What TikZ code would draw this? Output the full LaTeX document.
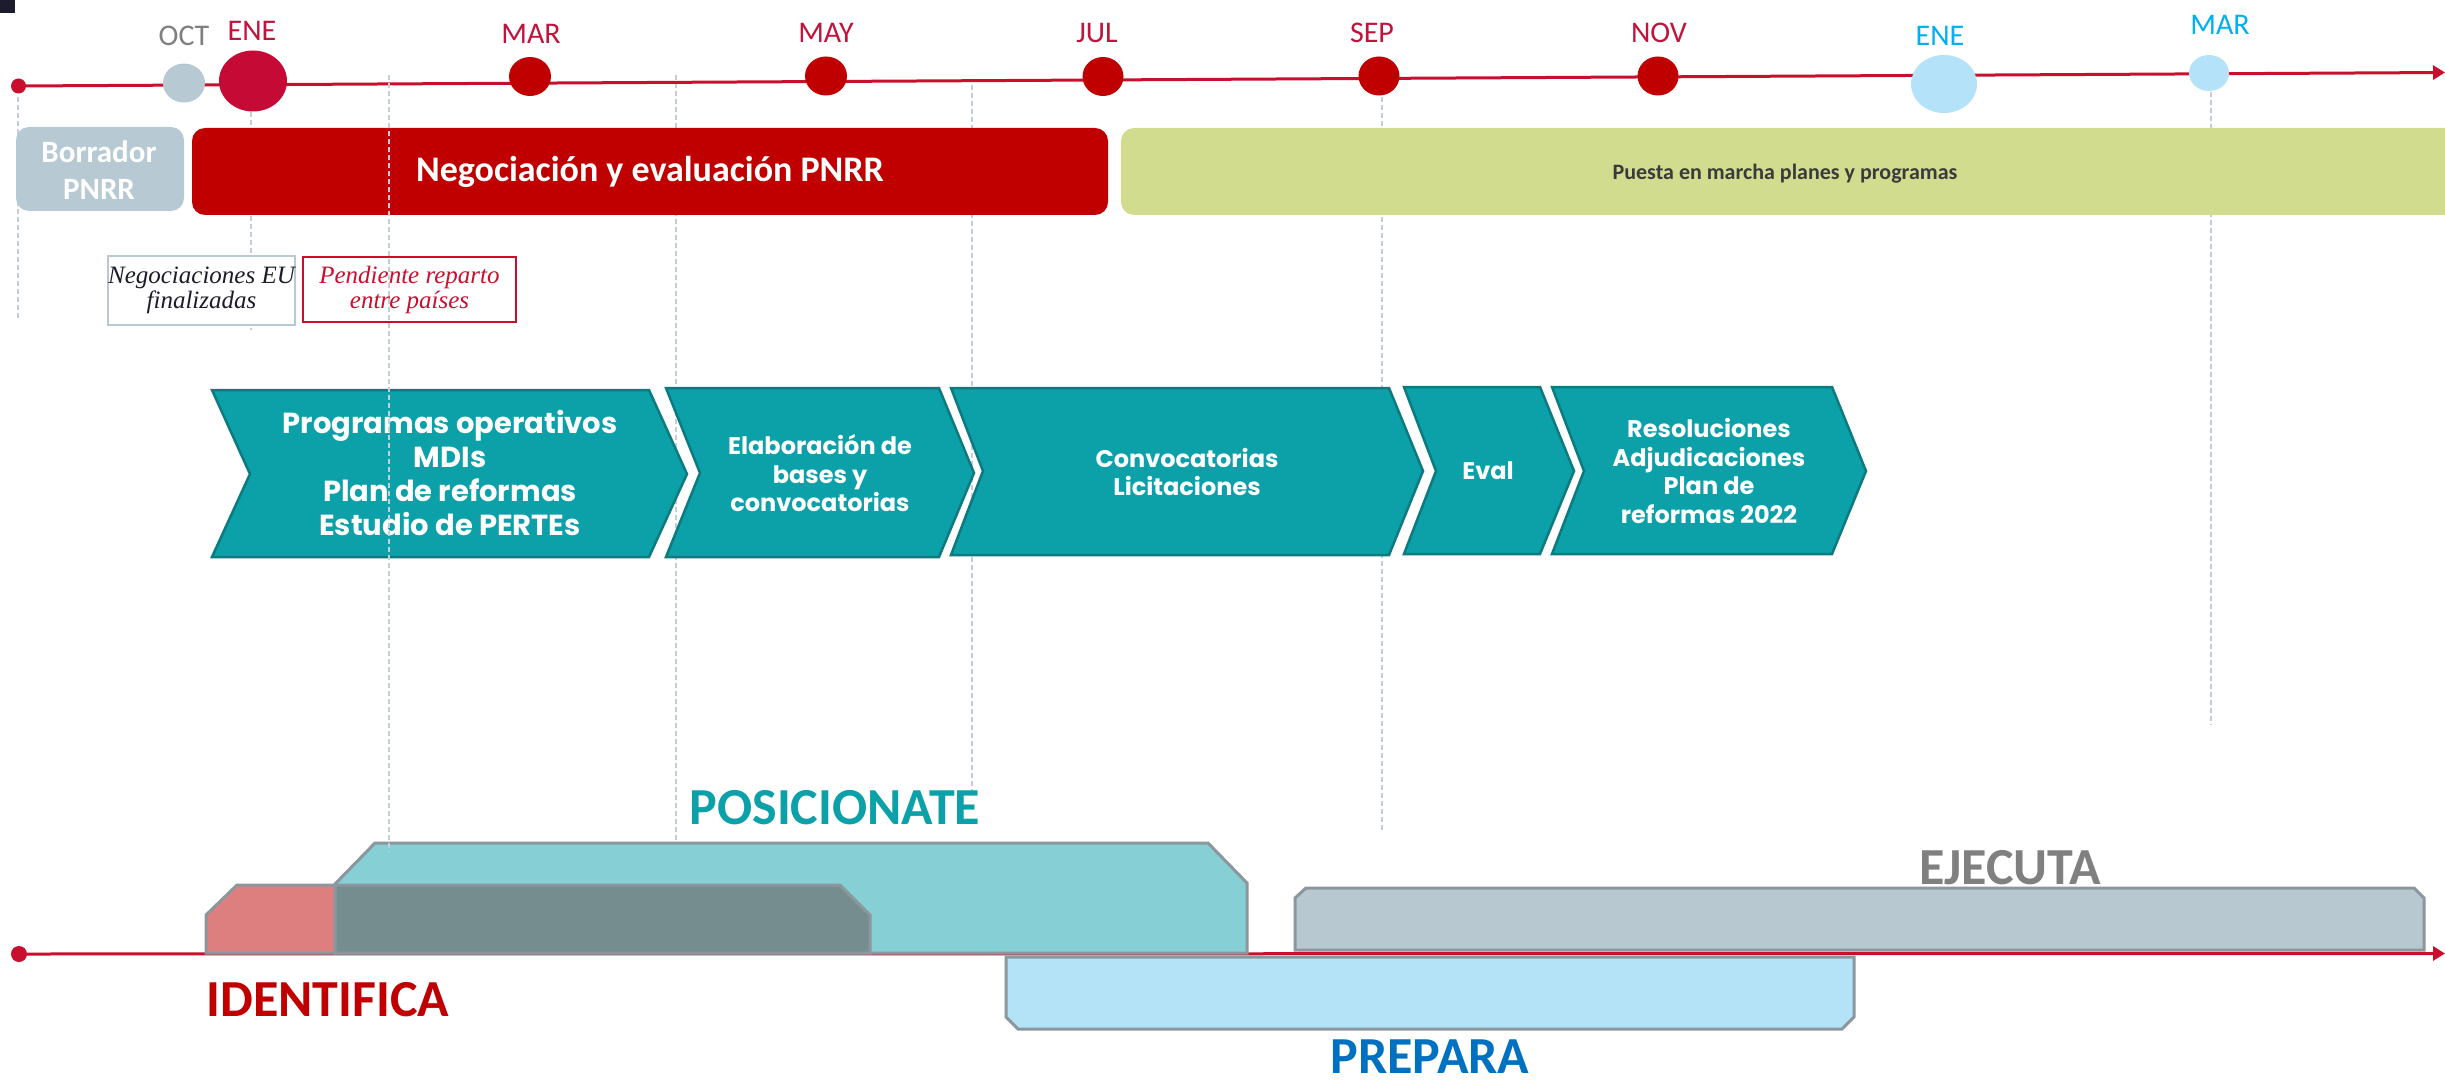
\documentclass[tikz,border=0pt]{standalone}
\usepackage{fontspec}
\setmainfont{Carlito}
\newfontfamily\popfont{Poppins}
\newfontfamily\serfont{Liberation Serif}
\usetikzlibrary{arrows.meta,shapes.geometric}
\definecolor{navy}{HTML}{1C1C2C}
\definecolor{crim}{HTML}{C40A35}
\definecolor{linered}{HTML}{C8102E}
\definecolor{darkred}{HTML}{C00000}
\definecolor{labred}{HTML}{C0143C}
\definecolor{grayblue}{HTML}{B7C9D3}
\definecolor{octgray}{HTML}{7F7F7F}
\definecolor{lblue}{HTML}{B4E2F8}
\definecolor{skyblue}{HTML}{00B0F0}
\definecolor{olive}{HTML}{D1DC8E}
\definecolor{txtdark}{HTML}{3B3B3B}
\definecolor{teal1}{HTML}{0CA0A8}
\definecolor{teal2}{HTML}{0B7B80}
\definecolor{posfill}{HTML}{86CFD4}
\definecolor{idfill}{HTML}{DE7F7F}
\definecolor{ovfill}{HTML}{758D8F}
\definecolor{ejfill}{HTML}{B7C8D0}
\definecolor{prfill}{HTML}{B4E3F8}
\definecolor{outl}{HTML}{8C979D}
\definecolor{dashc}{HTML}{C3CFD8}
\definecolor{prepblue}{HTML}{0070C0}
\definecolor{ejgray}{HTML}{808080}
\tikzset{
  guide/.style={draw=dashc, line width=1.5pt, dash pattern=on 5pt off 3pt},
  tline/.style={draw=linered, line width=3pt, -{Triangle[length=12pt,width=14pt]}},
  dotn/.style={ellipse, inner sep=0pt, draw=none},
  month/.style={inner sep=0pt, font=\fontsize{30}{36}\selectfont},
  chev/.style={fill=teal1, draw=teal2, line width=2.5pt, line join=miter},
  chevtxt/.style={inner sep=0pt, align=center, text=white},
  bigtxt/.style={inner sep=0pt, font=\bfseries\fontsize{52}{60}\selectfont},
  shp/.style={draw=outl, line width=3pt, line join=miter},
  note/.style={inner sep=0pt, align=center, line width=1.5pt, font=\serfont\itshape\fontsize{25}{25}\selectfont}
}
\begin{document}
\begin{tikzpicture}[x=1pt,y=-1pt]
\useasboundingbox (0,0) rectangle (2445,1083);
\fill[white] (0,0) rectangle (2445,1083);
\fill[navy] (0,0) rectangle (15,13);

% guide lines (behind)
\draw[guide] (18,97) -- (18,318);
\draw[guide] (251,112) -- (251,330);
\draw[guide] (676,75) -- (676,852);
\draw[guide] (972,85) -- (972,795);
\draw[guide] (1382,97) -- (1382,832);
\draw[guide] (2211,92) -- (2211,725);

% top timeline
\node[dotn, fill=linered, minimum width=15pt, minimum height=15pt] (tdot) at (18.5,86) {};
\coordinate (tend) at (2445,72.5);
\draw[tline] (tdot.center) -- (tend);

\node[dotn, fill=grayblue, minimum width=42pt, minimum height=39pt] (coct) at (184,83) {};
\node[dotn, fill=crim, minimum width=68pt, minimum height=61pt] (cene) at (253,81) {};
\node[dotn, fill=darkred, minimum width=42pt, minimum height=39pt] (cmar) at (530,76.5) {};
\node[dotn, fill=darkred, minimum width=42pt, minimum height=39pt] (cmay) at (826,76) {};
\node[dotn, fill=darkred, minimum width=41pt, minimum height=39pt] (cjul) at (1103,76.5) {};
\node[dotn, fill=darkred, minimum width=41pt, minimum height=39pt] (csep) at (1379,76) {};
\node[dotn, fill=darkred, minimum width=41pt, minimum height=39pt] (cnov) at (1658,76) {};
\node[dotn, fill=lblue, minimum width=66pt, minimum height=58pt] (cene2) at (1944,84) {};
\node[dotn, fill=lblue, minimum width=40pt, minimum height=36pt] (cmar2) at (2209,73) {};

\node[month, text=octgray] (loct) at (184,36) {OCT};
\node[month, text=labred] (lene) at (252,31) {ENE};
\node[month, text=labred] (lmar) at (531,34) {MAR};
\node[month, text=labred] (lmay) at (826,33) {MAY};
\node[month, text=labred] (ljul) at (1097,33) {JUL};
\node[month, text=labred] (lsep) at (1372,33) {SEP};
\node[month, text=labred] (lnov) at (1659,33) {NOV};
\node[month, text=skyblue] (lene2) at (1940,36) {ENE};
\node[month, text=skyblue] (lmar2) at (2220,24.5) {MAR};

% phase boxes
\fill[grayblue, rounded corners=13pt] (16,127) rectangle (184,211);
\node[inner sep=0pt, align=center, text=white, font=\bfseries\fontsize{31}{37}\selectfont] (borr) at (99,170) {Borrador\\PNRR};
\fill[darkred, rounded corners=13pt] (192,128) rectangle (1108,215);
\node[inner sep=0pt, text=white, font=\bfseries\fontsize{36}{40}\selectfont] (nego) at (650,172) {Negociación y evaluación PNRR};
\fill[olive, rounded corners=13pt] (1121,128) rectangle (2458,215);
\node[inner sep=0pt, text=txtdark, font=\bfseries\fontsize{22}{26}\selectfont] (puesta) at (1785,174) {Puesta en marcha planes y programas};

% notes
\node[note, draw=grayblue, fill=white, minimum width=185pt, minimum height=69pt, text=navy] (neg) at (201.5,290.5) {Negociaciones EU\\finalizadas};
\node[note, draw=linered, fill=white, minimum width=213pt, minimum height=65pt, text=linered] (pend) at (409.5,289.5) {Pendiente reparto\\entre países};

% chevrons
\draw[chev] (212,390) -- (649,390) -- (687,474) -- (649,557) -- (212,557) -- (250,474) -- cycle;
\draw[chev] (666,388) -- (939,388) -- (974,473) -- (939,557) -- (666,557) -- (700,473) -- cycle;
\draw[chev] (951,388) -- (1389,388) -- (1423,471) -- (1389,555) -- (951,555) -- (983,471) -- cycle;
\draw[chev] (1404,387) -- (1540,387) -- (1574,471) -- (1540,554) -- (1404,554) -- (1436,471) -- cycle;
\draw[chev] (1552,387) -- (1832,387) -- (1866,471) -- (1832,554) -- (1552,554) -- (1584,471) -- cycle;
\node[chevtxt, font=\popfont\bfseries\fontsize{29}{34}\selectfont] (t1) at (450,473) {Programas operativos\\MDIs\\Plan de reformas\\Estudio de PERTEs};
\node[chevtxt, font=\popfont\bfseries\fontsize{24}{28.5}\selectfont] (t2) at (820,473.5) {Elaboración de\\bases y\\convocatorias};
\node[chevtxt, font=\popfont\bfseries\fontsize{24}{28.5}\selectfont] (t3) at (1187,472) {Convocatorias\\Licitaciones};
\node[chevtxt, font=\popfont\bfseries\fontsize{24}{28.5}\selectfont] (t4) at (1488,471) {Eval};
\node[chevtxt, font=\popfont\bfseries\fontsize{24}{28.5}\selectfont] (t5) at (1709,471) {Resoluciones\\Adjudicaciones\\Plan de\\reformas 2022};

% bottom timeline
\node[dotn, fill=linered, minimum width=16pt, minimum height=16pt] (bdot) at (19,954) {};
\coordinate (bend) at (2445,953.5);
\draw[tline] (bdot.center) -- (bend);

% bottom shapes
\draw[shp, fill=posfill] (335,953) -- (335,884) -- (375,843) -- (1208,843) -- (1247,883) -- (1247,953) -- cycle;
\draw[shp, fill=idfill] (206,953) -- (206,915) -- (237,885) -- (335,885) -- (335,953) -- cycle;
\draw[shp, fill=ovfill] (335,953) -- (335,885) -- (840,885) -- (870,915) -- (870,953) -- cycle;
\draw[shp, fill=ejfill] (1295,950) -- (1295,898) -- (1306,888) -- (2414,888) -- (2424,898) -- (2424,950) -- cycle;
\draw[shp, fill=prfill] (1006,957) -- (1854,957) -- (1854,1017) -- (1842,1029) -- (1018,1029) -- (1006,1017) -- cycle;

\node[bigtxt, text=teal1] (posi) at (835,808) {POSICIONATE};
\node[bigtxt, text=darkred] (iden) at (328,1000) {IDENTIFICA};
\node[bigtxt, text=ejgray] (ejec) at (2010,868) {EJECUTA};
\node[bigtxt, text=prepblue] (prep) at (1430,1057) {PREPARA};

% guide on top
\draw[guide] (389,75) -- (389,852);
\end{tikzpicture}
\end{document}
